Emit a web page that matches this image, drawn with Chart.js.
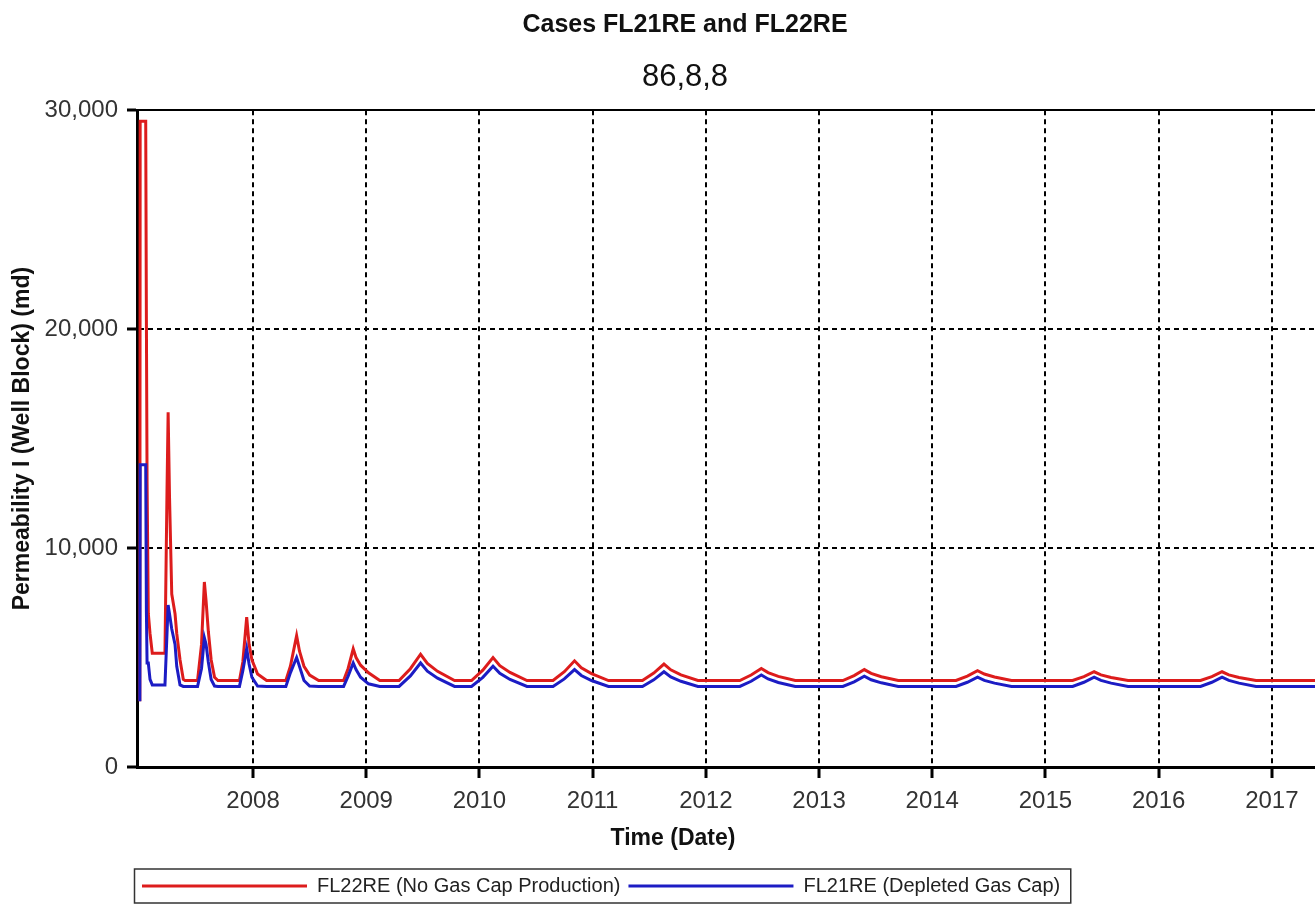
<!DOCTYPE html>
<html>
<head>
<meta charset="utf-8">
<script src="https://cdn.jsdelivr.net/npm/chart.js@4.4.1/dist/chart.umd.min.js"></script>
<style>
  html, body { margin: 0; padding: 0; background: #fff; overflow: hidden; }
  #wrap { width: 1370px; height: 906px; }
</style>
</head>
<body>
<div id="wrap"><canvas id="chart"></canvas></div>
<script>
// time in decimal years, shared by both cases
const years = [
  2007.000, 2007.003, 2007.052, 2007.058, 2007.064, 2007.075, 2007.090, 2007.110, 2007.222,
  2007.240, 2007.250, 2007.262, 2007.282, 2007.311, 2007.326, 2007.355, 2007.384, 2007.400,
  2007.510, 2007.545, 2007.570, 2007.585, 2007.605, 2007.630, 2007.660, 2007.690,
  2007.880, 2007.910, 2007.944, 2007.965, 2007.990, 2008.040, 2008.120,
  2008.290, 2008.330, 2008.385, 2008.410, 2008.450, 2008.500, 2008.580,
  2008.800, 2008.840, 2008.885, 2008.910, 2008.950, 2009.020, 2009.120,
  2009.290, 2009.390, 2009.480, 2009.540, 2009.630, 2009.780,
  2009.930, 2010.030, 2010.120, 2010.180, 2010.270, 2010.420,
  2010.650, 2010.750, 2010.840, 2010.900, 2010.990, 2011.140,
  2011.440, 2011.540, 2011.630, 2011.690, 2011.780, 2011.930,
  2012.300, 2012.400, 2012.490, 2012.550, 2012.640, 2012.790,
  2013.210, 2013.310, 2013.400, 2013.460, 2013.550, 2013.700,
  2014.210, 2014.310, 2014.400, 2014.460, 2014.550, 2014.700,
  2015.240, 2015.340, 2015.430, 2015.490, 2015.580, 2015.730,
  2016.370, 2016.470, 2016.560, 2016.620, 2016.710, 2016.860,
  2017.870
];

// FL22RE (No Gas Cap Production), md
const fl22re = [
  3000, 29500, 29500, 20400, 13000, 7000, 6100, 5200, 5200,
  12600, 16200, 12400, 7900, 7000, 6100, 4900, 4000, 3950,
  3950, 5600, 8450, 7600, 6200, 4900, 4100, 3950,
  3950, 4800, 6850, 5600, 4900, 4250, 3950,
  3950, 4600, 6000, 5300, 4600, 4200, 3950,
  3950, 4500, 5400, 5000, 4650, 4300, 3950,
  3950, 4490, 5150, 4730, 4370, 3950,
  3950, 4420, 5000, 4630, 4320, 3950,
  3950, 4355, 4850, 4535, 4265, 3950,
  3950, 4290, 4700, 4440, 4210, 3950,
  3950, 4200, 4500, 4310, 4140, 3950,
  3950, 4175, 4450, 4275, 4125, 3950,
  3950, 4150, 4400, 4245, 4110, 3950,
  3950, 4130, 4350, 4210, 4090, 3950,
  3950, 4130, 4350, 4210, 4090, 3950,
  3950
];

// FL21RE (Depleted Gas Cap), md
const fl21re = [
  3000, 13800, 13800, 7100, 4750, 4750, 4000, 3750, 3750,
  6100, 7400, 7000, 6300, 5600, 4600, 3750, 3680, 3680,
  3680, 4500, 5900, 5600, 4800, 4000, 3700, 3680,
  3680, 4400, 5400, 4700, 4100, 3700, 3680,
  3680, 4300, 5000, 4600, 3950, 3700, 3680,
  3680, 4150, 4750, 4450, 4100, 3800, 3680,
  3680, 4160, 4750, 4375, 4055, 3680,
  3680, 4095, 4600, 4280, 4000, 3680,
  3680, 4025, 4450, 4180, 3950, 3680,
  3680, 3980, 4350, 4115, 3915, 3680,
  3680, 3915, 4200, 4020, 3860, 3680,
  3680, 3890, 4150, 3985, 3845, 3680,
  3680, 3870, 4100, 3955, 3830, 3680,
  3680, 3870, 4100, 3955, 3830, 3680,
  3680, 3870, 4100, 3955, 3830, 3680,
  3680
];

const yearTicks = [2008, 2009, 2010, 2011, 2012, 2013, 2014, 2015, 2016, 2017];
const permTicks = [0, 10000, 20000, 30000];

const FONT = "'Liberation Sans', Arial, sans-serif";

// legend is left-aligned under the y axis and framed like the original
const legendFrame = {
  id: 'legendFrame',
  afterUpdate(chart) {
    const lg = chart.legend;
    const dx = 134 - lg.left;
    lg.left += dx;
    lg.right += dx;
    lg.legendHitBoxes.forEach(h => { h.left += dx; });
  },
  afterDraw(chart) {
    const lg = chart.legend;
    const boxes = lg.legendHitBoxes;
    if (!boxes.length) return;
    const last = boxes[boxes.length - 1];
    const ctx = chart.ctx;
    ctx.save();
    ctx.strokeStyle = '#333';
    ctx.lineWidth = 1.5;
    ctx.strokeRect(lg.left + 0.5, boxes[0].top - 7, last.left + last.width + 10 - lg.left, boxes[0].height + 14);
    ctx.restore();
  }
};

new Chart(document.getElementById('chart'), {
  type: 'line',
  data: {
    datasets: [
      {
        label: 'FL21RE (Depleted Gas Cap)',
        data: years.map((x, i) => ({ x, y: fl21re[i] })),
        borderColor: '#1c1cc4',
        backgroundColor: '#1c1cc4',
        borderWidth: 3,
        pointRadius: 0,
        tension: 0
      },
      {
        label: 'FL22RE (No Gas Cap Production)',
        data: years.map((x, i) => ({ x, y: fl22re[i] })),
        borderColor: '#dd1c1c',
        backgroundColor: '#dd1c1c',
        borderWidth: 3,
        pointRadius: 0,
        tension: 0
      }
    ]
  },
  options: {
    responsive: true,
    maintainAspectRatio: false,
    animation: false,
    layout: { padding: 0 },
    plugins: {
      title: {
        display: true,
        text: 'Cases FL21RE and FL22RE',
        color: '#111',
        font: { family: FONT, size: 25, weight: 'bold' },
        padding: { top: 10, bottom: 4 }
      },
      subtitle: {
        display: true,
        text: '86,8,8',
        color: '#111',
        font: { family: FONT, size: 31 },
        padding: { top: 15, bottom: 14 }
      },
      legend: {
        position: 'bottom',
        align: 'start',
        labels: {
          usePointStyle: true,
          pointStyle: 'line',
          pointStyleWidth: 165,
          padding: 8,
          color: '#222',
          font: { family: FONT, size: 20 },
          sort: (a, b) => b.datasetIndex - a.datasetIndex
        }
      },
      tooltip: { enabled: false }
    },
    scales: {
      x: {
        type: 'linear',
        min: 2006.975,
        max: 2017.867,
        afterBuildTicks: s => { s.ticks = yearTicks.map(v => ({ value: v })); },
        afterFit: s => { s.height = 101; },
        ticks: {
          color: '#333',
          padding: 9,
          maxRotation: 0,
          font: { family: FONT, size: 24 },
          callback: v => String(v)
        },
        grid: {
          color: '#000',
          lineWidth: 2,
          tickLength: 11,
          tickWidth: 3,
          tickColor: '#000',
          tickBorderDash: []
        },
        border: { color: '#000', width: 3, dash: [5, 4] },
        title: {
          display: true,
          // trailing em spaces pull the title left, as in the original layout
          text: 'Time (Date)\u2003\u2003\u2003\u2003\u2003\u2003\u2003',
          color: '#111',
          font: { family: FONT, size: 23, weight: 'bold' },
          padding: { top: 4, bottom: 16 }
        }
      },
      y: {
        min: 0,
        max: 30000,
        afterBuildTicks: s => { s.ticks = permTicks.map(v => ({ value: v })); },
        afterFit: s => { s.width = 137; },
        ticks: {
          color: '#333',
          padding: 9,
          font: { family: FONT, size: 24 },
          callback: v => v.toLocaleString('en-US')
        },
        grid: {
          color: c => (c.tick && c.tick.value === 0 ? 'rgba(0,0,0,0)' : '#000'),
          lineWidth: 2,
          tickLength: 10,
          tickWidth: 3,
          tickColor: '#000',
          tickBorderDash: []
        },
        border: {
          color: '#000',
          width: 3,
          dash: c => (c.tick && c.tick.value === 30000 ? [] : [5, 4])
        },
        title: {
          display: true,
          text: 'Permeability I (Well Block) (md)',
          color: '#111',
          font: { family: FONT, size: 23, weight: 'bold' },
          padding: { top: 9, bottom: 0 }
        }
      }
    }
  },
  plugins: [legendFrame]
});
</script>
</body>
</html>
